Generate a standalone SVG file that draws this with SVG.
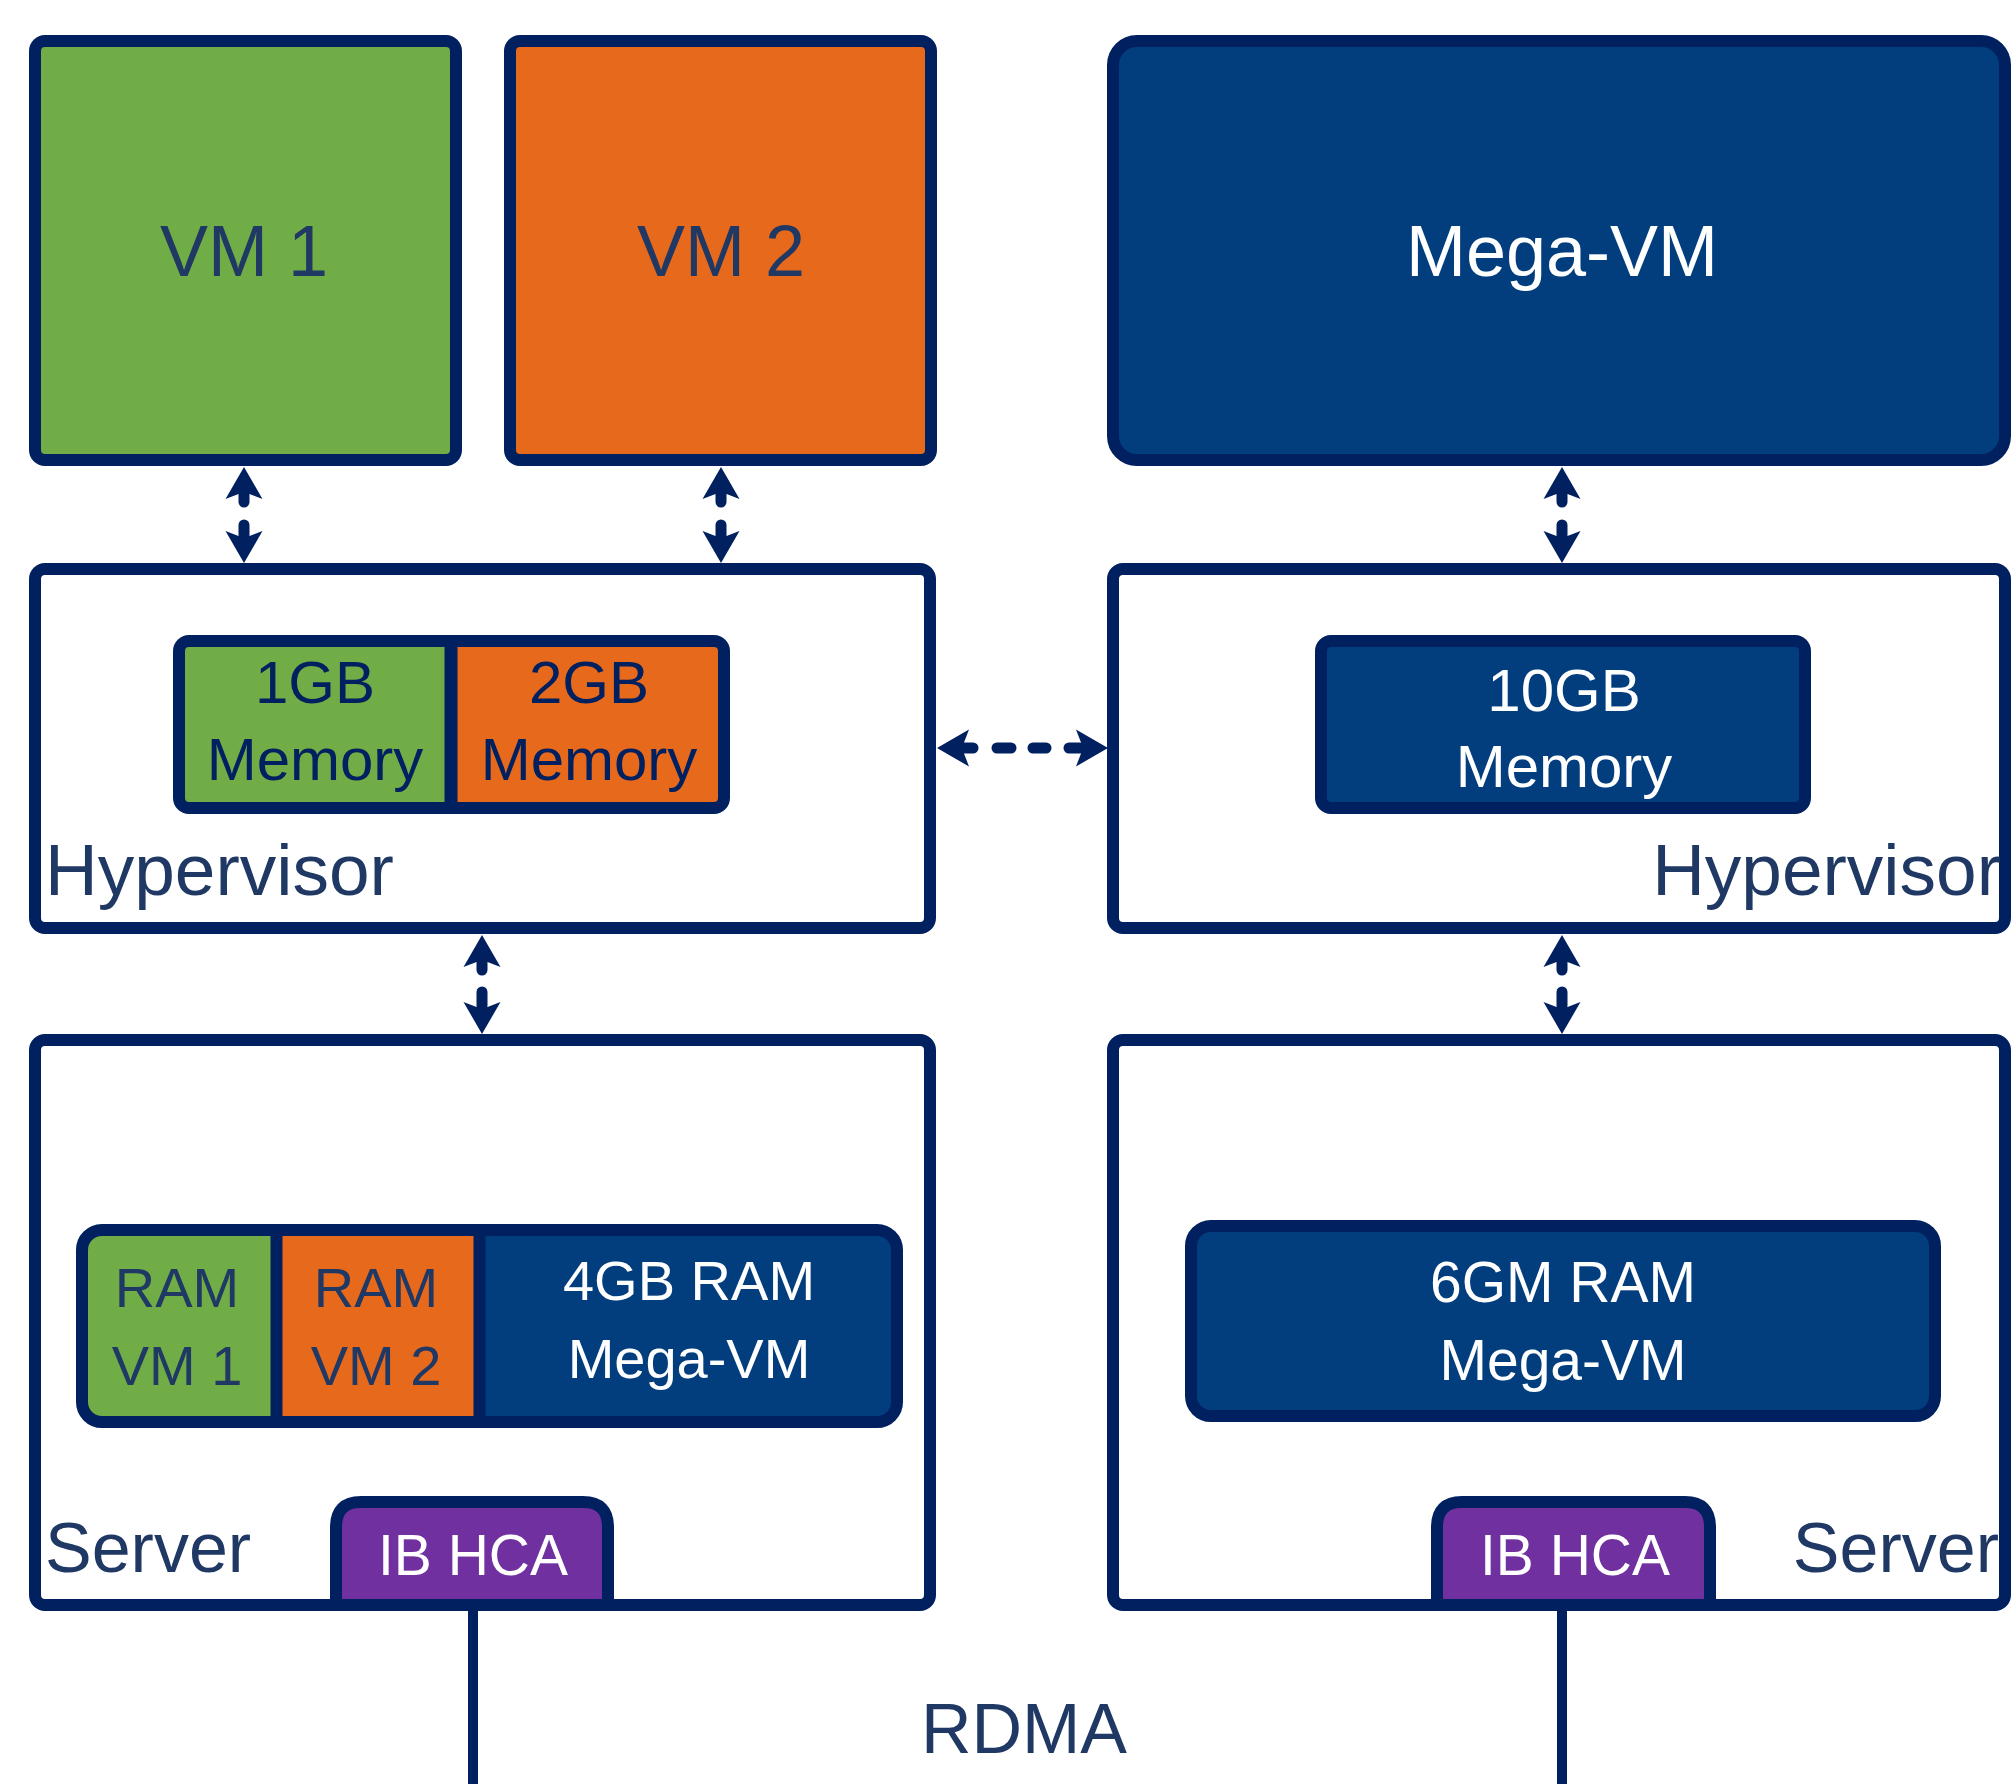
<svg xmlns="http://www.w3.org/2000/svg" width="2011" height="1784" viewBox="0 0 2011 1784">
<style>
.box{stroke:#002060;stroke-width:12;}
.w{fill:#ffffff;}
.g{fill:#70AD47;}
.o{fill:#E7691C;}
.b{fill:#023E7D;}
.p{fill:#7030A0;}
.t{font-family:"Liberation Sans",Arial,sans-serif;text-anchor:middle;}
.dk{fill:#1F3864;}
.nv{fill:#002060;}
.wt{fill:#ffffff;}
.ln{stroke:#002060;stroke-width:11;stroke-linecap:round;fill:none;}
.hd{fill:#002060;}
</style>
<defs>
<clipPath id="memL"><rect x="179" y="641" width="545" height="167" rx="10"/></clipPath>
<clipPath id="ramL"><rect x="82" y="1230" width="815" height="192" rx="20"/></clipPath>
</defs>

<rect width="2011" height="1784" fill="#ffffff"/>

<g id="vm1">
<rect class="box g" x="35" y="41" width="421" height="419" rx="10"/>
<text class="t dk" x="244" y="276" font-size="72">VM 1</text>
</g>
<g id="vm2">
<rect class="box o" x="510" y="41" width="421" height="419" rx="10"/>
<text class="t dk" x="721" y="276" font-size="72">VM 2</text>
</g>
<g id="megavm">
<rect class="box b" x="1113" y="41" width="892" height="419" rx="24"/>
<text class="t wt" x="1562" y="276" font-size="72">Mega-VM</text>
</g>

<g id="hypervisor-left">
<rect class="box w" x="35" y="569" width="895" height="359" rx="10"/>
<text class="t dk" x="45" y="895" font-size="73" style="text-anchor:start">Hypervisor</text>
</g>
<g id="memory-left">
<g clip-path="url(#memL)">
<rect class="g" x="179" y="641" width="272" height="167"/>
<rect class="o" x="451" y="641" width="273" height="167"/>
</g>
<line x1="451" y1="641" x2="451" y2="808" stroke="#002060" stroke-width="13"/>
<rect class="box" fill="none" x="179" y="641" width="545" height="167" rx="10"/>
<text class="t nv" x="315" y="703" font-size="60">1GB</text>
<text class="t nv" x="315" y="780" font-size="60">Memory</text>
<text class="t nv" x="589" y="703" font-size="60">2GB</text>
<text class="t nv" x="589" y="780" font-size="60">Memory</text>
</g>

<g id="hypervisor-right">
<rect class="box w" x="1113" y="569" width="892" height="359" rx="10"/>
<text class="t dk" x="2001" y="895" font-size="73" style="text-anchor:end">Hypervisor</text>
</g>
<g id="memory-right">
<rect class="box b" x="1321" y="641" width="484" height="167" rx="10"/>
<text class="t wt" x="1564" y="711" font-size="60">10GB</text>
<text class="t wt" x="1564" y="787" font-size="60">Memory</text>
</g>

<g id="server-left">
<rect class="box w" x="35" y="1040" width="895" height="565" rx="10"/>
<text class="t dk" x="45" y="1572" font-size="70" style="text-anchor:start">Server</text>
</g>
<g id="ram-left">
<g clip-path="url(#ramL)">
<rect class="b" x="82" y="1230" width="815" height="192"/>
<rect class="g" x="82" y="1230" width="194.5" height="192"/>
<rect class="o" x="276.5" y="1230" width="203" height="192"/>
</g>
<line x1="276.5" y1="1230" x2="276.5" y2="1422" stroke="#002060" stroke-width="12"/>
<line x1="479.5" y1="1230" x2="479.5" y2="1422" stroke="#002060" stroke-width="12"/>
<rect class="box" fill="none" x="82" y="1230" width="815" height="192" rx="20"/>
<text class="t dk" x="177" y="1307" font-size="56">RAM</text>
<text class="t dk" x="177" y="1385" font-size="56">VM 1</text>
<text class="t dk" x="376" y="1307" font-size="56">RAM</text>
<text class="t dk" x="376" y="1385" font-size="56">VM 2</text>
<text class="t wt" x="689" y="1300" font-size="56">4GB RAM</text>
<text class="t wt" x="689" y="1378" font-size="56">Mega-VM</text>
</g>
<g id="ibhca-left">
<path class="box p" d="M336,1605 V1527 Q336,1502 361,1502 H583 Q608,1502 608,1527 V1605 Z"/>
<text class="t wt" x="473" y="1575" font-size="57">IB HCA</text>
</g>

<g id="server-right">
<rect class="box w" x="1113" y="1040" width="892" height="565" rx="10"/>
<text class="t dk" x="1999" y="1572" font-size="70" style="text-anchor:end">Server</text>
</g>
<g id="ram-right">
<rect class="box b" x="1191" y="1226" width="744" height="190" rx="20"/>
<text class="t wt" x="1563" y="1302" font-size="57">6GM RAM</text>
<text class="t wt" x="1563" y="1380" font-size="57">Mega-VM</text>
</g>
<g id="ibhca-right">
<path class="box p" d="M1437,1605 V1527 Q1437,1502 1462,1502 H1685 Q1710,1502 1710,1527 V1605 Z"/>
<text class="t wt" x="1575" y="1575" font-size="57">IB HCA</text>
</g>

<g id="rdma-label">
<text class="t dk" x="1024" y="1753" font-size="70">RDMA</text>
</g>

<g id="connectors">
<polygon class="hd" points="244,467 262.5,499 249.5,494 238.5,494 225.5,499"/>
<line class="ln" x1="244" y1="494" x2="244" y2="502"/>
<line class="ln" x1="244" y1="525" x2="244" y2="536"/>
<polygon class="hd" points="244,563 262.5,531 249.5,536 238.5,536 225.5,531"/>
<polygon class="hd" points="721,467 739.5,499 726.5,494 715.5,494 702.5,499"/>
<line class="ln" x1="721" y1="494" x2="721" y2="502"/>
<line class="ln" x1="721" y1="525" x2="721" y2="536"/>
<polygon class="hd" points="721,563 739.5,531 726.5,536 715.5,536 702.5,531"/>
<polygon class="hd" points="1562,467 1580.5,499 1567.5,494 1556.5,494 1543.5,499"/>
<line class="ln" x1="1562" y1="494" x2="1562" y2="502"/>
<line class="ln" x1="1562" y1="525" x2="1562" y2="536"/>
<polygon class="hd" points="1562,563 1580.5,531 1567.5,536 1556.5,536 1543.5,531"/>
<polygon class="hd" points="482,935 500.5,967 487.5,962 476.5,962 463.5,967"/>
<line class="ln" x1="482" y1="962" x2="482" y2="970"/>
<line class="ln" x1="482" y1="992" x2="482" y2="1006"/>
<polygon class="hd" points="482,1034 500.5,1002 487.5,1007 476.5,1007 463.5,1002"/>
<polygon class="hd" points="1562,935 1580.5,967 1567.5,962 1556.5,962 1543.5,967"/>
<line class="ln" x1="1562" y1="962" x2="1562" y2="970"/>
<line class="ln" x1="1562" y1="992" x2="1562" y2="1006"/>
<polygon class="hd" points="1562,1034 1580.5,1002 1567.5,1007 1556.5,1007 1543.5,1002"/>
<polygon class="hd" points="937,748 969,729.5 964,742.5 964,753.5 969,766.5"/>
<line class="ln" x1="964" y1="748" x2="973" y2="748"/>
<line class="ln" x1="997" y1="748" x2="1011" y2="748"/>
<line class="ln" x1="1033" y1="748" x2="1046" y2="748"/>
<line class="ln" x1="1069" y1="748" x2="1080" y2="748"/>
<polygon class="hd" points="1108,748 1076,729.5 1081,742.5 1081,753.5 1076,766.5"/>
<line x1="473" y1="1611" x2="473" y2="1784" stroke="#002060" stroke-width="10"/>
<line x1="1562" y1="1611" x2="1562" y2="1784" stroke="#002060" stroke-width="10"/>
</g>
</svg>
